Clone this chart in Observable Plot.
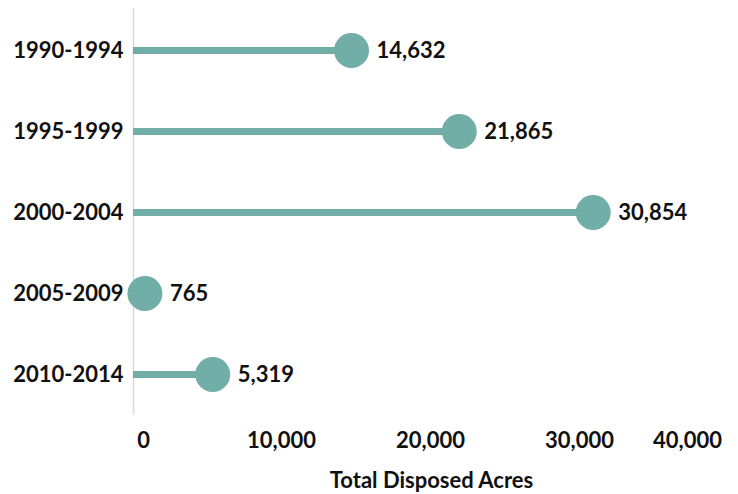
<!DOCTYPE html>
<html>
<head>
<meta charset="utf-8">
<script src="https://cdn.jsdelivr.net/npm/d3@7"></script>
<script src="https://cdn.jsdelivr.net/npm/@observablehq/plot@0.6"></script>
<style>
  html, body { margin: 0; padding: 0; background: #fff; }
</style>
</head>
<body>
<div id="chart"></div>
<script>
const periods = ["1990-1994", "1995-1999", "2000-2004", "2005-2009", "2010-2014"];
const acres = [14632, 21865, 30854, 765, 5319];
const xTicks = [0, 10000, 20000, 30000, 40000];
const xTitle = "Total Disposed Acres";

const data = periods.map((p, i) => ({period: p, value: acres[i]}));
const teal = "#71aea7";
const fmt = d3.format(",");

const chart = Plot.plot({
  width: 738,
  height: 494,
  marginLeft: 133,
  marginRight: 9,
  marginTop: 8,
  marginBottom: 79,
  style: {fontFamily: "Lato, sans-serif", fontSize: "22px", fontWeight: "bold", color: "#111", background: "#fff"},
  x: {domain: [xTicks[0], xTicks[xTicks.length - 1]]},
  y: {domain: periods, type: "point", padding: 0.5},
  marks: [
    Plot.ruleX([0], {stroke: "#d9d9d9", strokeWidth: 1.5}),
    Plot.ruleY(data, {y: "period", x1: 0, x2: "value", stroke: teal, strokeWidth: 7}),
    Plot.dot(data, {y: "period", x: "value", r: 17.5, fill: teal, stroke: null}),
    Plot.text(data, {y: "period", x: "value", text: d => fmt(d.value), textAnchor: "start", dx: 25, fill: "#111"}),
    Plot.axisY({tickSize: 0, tickPadding: 10, label: null, fill: "#111"}),
    Plot.axisX([xTicks[0]], {tickSize: 0, tickPadding: 17, dx: 10, label: null, tickFormat: fmt, fill: "#111"}),
    Plot.axisX(xTicks.slice(1, -1), {tickSize: 0, tickPadding: 17, dx: -1, tickFormat: fmt, fill: "#111",
      label: xTitle, labelAnchor: "center", labelOffset: 72, labelArrow: false}),
    Plot.axisX([xTicks[xTicks.length - 1]], {tickSize: 0, tickPadding: 17, dx: -42, label: null, tickFormat: fmt, fill: "#111"})
  ]
});
document.getElementById("chart").appendChild(chart);
</script>
</body>
</html>
